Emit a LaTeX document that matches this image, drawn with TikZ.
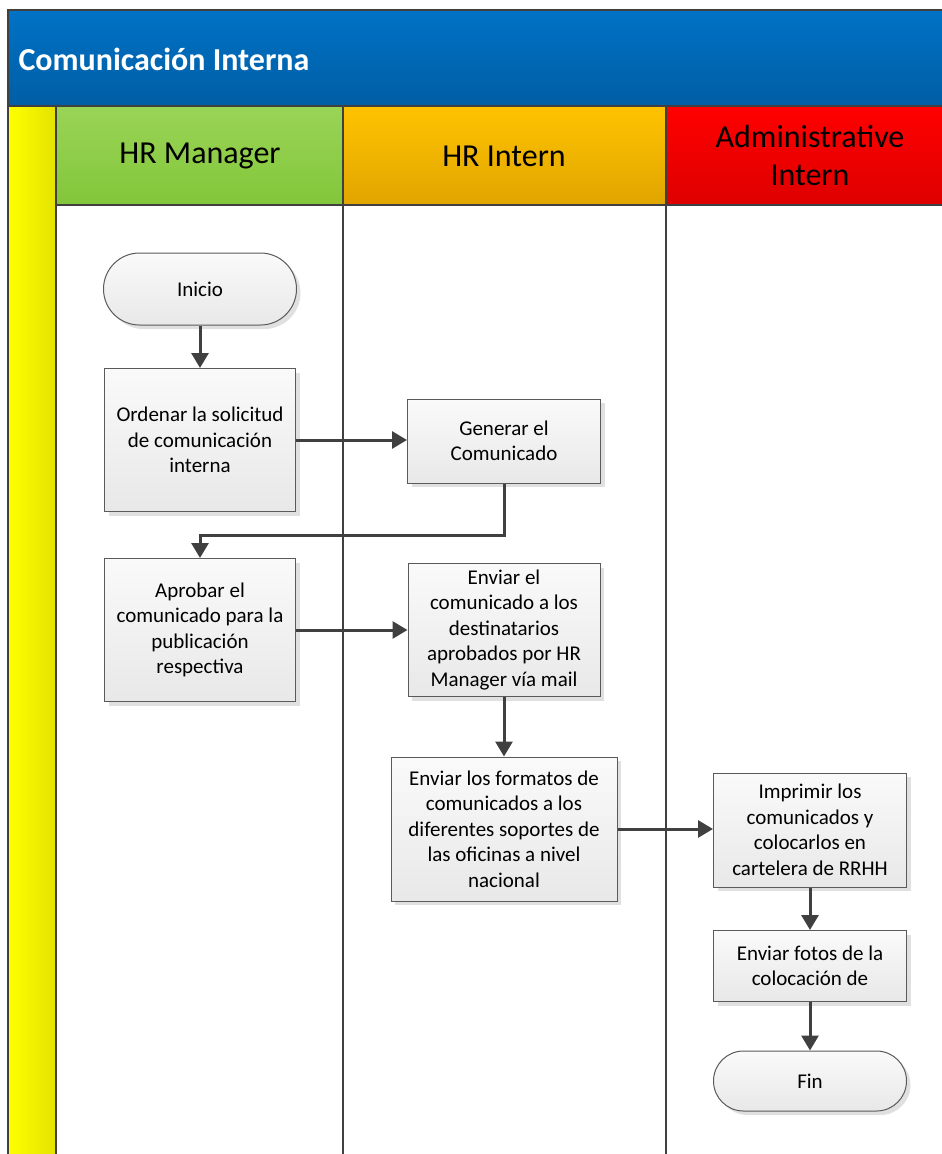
\documentclass[tikz,border=0pt]{standalone}
\usepackage{fontspec}
\setmainfont{Carlito}
\usetikzlibrary{shapes.misc,shadows,arrows.meta}

\definecolor{framegray}{HTML}{404040}
\definecolor{boxborder}{HTML}{5A5A5A}
\definecolor{titletop}{HTML}{0072C6}
\definecolor{titlebot}{HTML}{005EA4}
\definecolor{greentop}{HTML}{9AD457}
\definecolor{greenbot}{HTML}{82C63A}
\definecolor{orangetop}{HTML}{FFC300}
\definecolor{orangebot}{HTML}{E0A500}
\definecolor{redtop}{HTML}{FF0000}
\definecolor{redbot}{HTML}{DE0000}
\definecolor{yellowl}{HTML}{FFFF00}
\definecolor{yellowr}{HTML}{E3E300}

\tikzset{
  frame/.style={draw=framegray, line width=2.5pt},
  lanetext/.style={font=\fontsize{32}{38}\selectfont, align=center, text=black},
  procbox/.style={rectangle, draw=boxborder, line width=1pt,
    top color=white!98!black, bottom color=white!91!black,
    font=\fontsize{21}{25.5}\selectfont, align=center, inner sep=0pt,
    drop shadow={shadow xshift=4pt, shadow yshift=-4pt, fill=black!12, opacity=1}},
  termbox/.style={procbox, rounded rectangle},
  flow/.style={draw=framegray, line width=3pt,
    -{Triangle[length=15pt,width=17pt]}}
}

\begin{document}
\begin{tikzpicture}[x=1pt,y=-1pt]
\useasboundingbox (0,0) rectangle (942,1154);
\clip (0,0) rectangle (942,1154);

% title band
\draw[frame, top color=titletop, bottom color=titlebot] (8,10) rectangle (960,106);
\node[anchor=west, text=white, font=\bfseries\fontsize{32}{36}\selectfont] (title) at (15,59) {Comunicación Interna};

% left strip
\draw[frame, left color=yellowl, right color=yellowr] (8,106) rectangle (56,1170);

% lane headers
\draw[frame, top color=greentop, bottom color=greenbot] (56,106) rectangle (343,205);
\draw[frame, top color=orangetop, bottom color=orangebot] (343,106) rectangle (666,205);
\draw[frame, top color=redtop, bottom color=redbot] (666,106) rectangle (960,205);
\node[lanetext] (lane1) at (200,156) {HR Manager};
\node[lanetext] (lane2) at (504,156) {HR Intern};
\node[lanetext] (lane3) at (810,156) {Administrative\\Intern};

% lane bodies
\draw[frame] (56,205) rectangle (343,1170);
\draw[frame] (343,205) rectangle (666,1170);
\draw[frame] (666,205) rectangle (960,1170);

% steps
\node[termbox, minimum width=193pt, minimum height=72pt] (inicio) at (200,289) {Inicio};
\node[procbox, minimum width=191pt, minimum height=143pt] (ordenar) at (200,440)
  {Ordenar la solicitud\\de comunicación\\interna};
\node[procbox, minimum width=193pt, minimum height=84pt] (generar) at (504,441)
  {Generar el\\Comunicado};
\node[procbox, minimum width=191pt, minimum height=143pt] (aprobar) at (200,630)
  {Aprobar el\\comunicado para la\\publicación\\respectiva};
\node[procbox, minimum width=192pt, minimum height=133pt] (enviar1) at (504,630)
  {Enviar el\\comunicado a los\\destinatarios\\aprobados por HR\\Manager vía mail};
\node[procbox, minimum width=226pt, minimum height=144pt] (enviar2) at (504,829)
  {Enviar los formatos de\\comunicados a los\\diferentes soportes de\\las oficinas a nivel\\nacional};
\node[procbox, minimum width=193pt, minimum height=114pt] (imprimir) at (810,830)
  {Imprimir los\\comunicados y\\colocarlos en\\cartelera de RRHH};
\node[procbox, minimum width=193pt, minimum height=71pt] (fotos) at (810,966)
  {Enviar fotos de la\\colocación de};
\node[termbox, minimum width=193pt, minimum height=60pt] (fin) at (810,1081) {Fin};

% connectors
\draw[flow] (inicio) -- (ordenar);
\draw[flow] (ordenar.east) -- (ordenar.east -| generar.west);
\draw[flow] (generar.south) -- ++(0,52) -| (aprobar.north);
\draw[flow] (aprobar.east) -- (aprobar.east -| enviar1.west);
\draw[flow] (enviar1.south) -- (enviar2.north);
\draw[flow] (enviar2.east) -- (enviar2.east -| imprimir.west);
\draw[flow] (imprimir) -- (fotos);
\draw[flow] (fotos) -- (fin);
\end{tikzpicture}
\end{document}
